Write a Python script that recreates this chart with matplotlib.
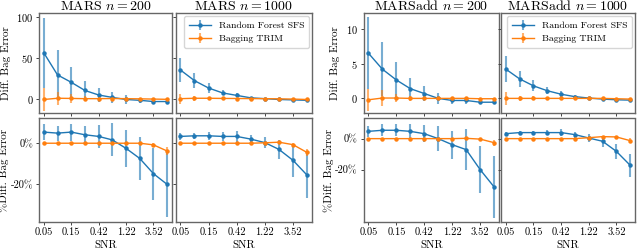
import matplotlib
matplotlib.use("Agg")
import matplotlib.pyplot as plt
from matplotlib.ticker import FixedLocator

plt.rcParams['font.family'] = 'serif'
plt.rcParams['font.serif'] = ['cmr10', 'DejaVu Serif']
plt.rcParams['mathtext.fontset'] = 'cm'
plt.rcParams['axes.unicode_minus'] = False
plt.rcParams['axes.formatter.use_mathtext'] = True

# SNR grid (10 points), every other one labelled
snr_labels = ['0.05', '0.15', '0.42', '1.22', '3.52']
x = list(range(10))

# MARS n=200
mars200_rf = [56, 29, 20, 10, 4.5, 1.5, -1, -2, -3.5, -3.5]
mars200_rf_err = [43, 31, 19, 11, 8, 7, 5, 3, 2, 1.5]
mars200_tr = [-1, 0.5, 0.3, 0, 0, 0.2, 0, -0.2, -0.5, -0.8]
mars200_tr_err = [14, 8, 5, 3, 2, 1.5, 1.2, 1, 1, 1]
mars200_rf_pct = [5.4, 4.9, 5.4, 4.1, 3.3, 1.6, -2.5, -7.4, -14.8, -20]
mars200_rf_pct_err = [3.7, 3.7, 4.1, 4.3, 5.7, 8, 9, 10.6, 12.7, 16]
mars200_tr_pct = [0, 0, 0, 0, 0, 0, 0, 0, -0.8, -3.8]
mars200_tr_pct_err = [0.3, 0.3, 0.3, 0.3, 0.3, 0.3, 0.3, 0.5, 1, 2]

# MARS n=1000
mars1000_rf = [35, 22, 13, 7, 4, 1, 0, -1, -1.5, -2]
mars1000_rf_err = [15, 9, 6, 3, 2.5, 1, 0.5, 1, 1, 1]
mars1000_tr = [0, 0.5, 0.5, 0.3, 0.2, 0.1, 0, -0.2, -0.5, -1]
mars1000_tr_err = [6, 3, 1.5, 1, 0.8, 0.5, 0.5, 0.5, 0.5, 0.5]
mars1000_rf_pct = [3.3, 3.6, 3.6, 3.3, 3.3, 2, 0.3, -3, -8.3, -15.5]
mars1000_rf_pct_err = [1.5, 1.5, 2, 2, 2.5, 2, 2.5, 4.5, 8, 11]
mars1000_tr_pct = [0, 0, 0, 0, 0, 0, 0.2, 0.5, -0.7, -4.5]
mars1000_tr_pct_err = [0.3, 0.3, 0.3, 0.3, 0.3, 0.3, 0.5, 0.6, 0.8, 1.5]

# MARSadd n=200
add200_rf = [6.5, 4.2, 2.65, 1.4, 0.7, 0, -0.3, -0.3, -0.55, -0.55]
add200_rf_err = [5.2, 3.9, 2.6, 1.6, 1.1, 0.8, 0.5, 0.5, 0.3, 0.3]
add200_tr = [-0.2, 0.05, 0.05, 0, 0, 0, 0, 0, -0.05, -0.05]
add200_tr_err = [1.6, 1.1, 0.6, 0.4, 0.25, 0.2, 0.15, 0.15, 0.15, 0.15]
add200_rf_pct = [4.7, 5.4, 5.4, 4.7, 3.2, 0, -3.9, -7.1, -20, -31.2]
add200_rf_pct_err = [3.4, 4, 4, 4.5, 5.5, 8, 9, 13, 15, 20]
add200_tr_pct = [0, 0, 0, 0, 0, 0, 0, 0.2, -0.3, -2.6]
add200_tr_pct_err = [0.3, 0.3, 0.3, 0.3, 0.3, 0.3, 0.3, 0.5, 1, 2]

# MARSadd n=1000
add1000_rf = [4.2, 2.8, 1.8, 1.1, 0.6, 0.25, 0.05, -0.1, -0.2, -0.25]
add1000_rf_err = [1.9, 1.1, 0.8, 0.5, 0.4, 0.2, 0.15, 0.15, 0.15, 0.15]
add1000_tr = [0, 0, 0, 0, 0, 0, 0, 0, -0.05, -0.1]
add1000_tr_err = [0.9, 0.4, 0.3, 0.2, 0.15, 0.1, 0.1, 0.1, 0.1, 0.1]
add1000_rf_pct = [3.2, 3.9, 3.9, 3.9, 3.9, 2.6, 0.4, -1.7, -8.2, -17.2]
add1000_rf_pct_err = [1, 1, 1.2, 1.5, 2, 2, 2.5, 3.5, 5, 7.5]
add1000_tr_pct = [0, 0, 0, 0, 0, 0, 0.6, 1.3, 1.1, -1.3]
add1000_tr_pct_err = [0.3, 0.3, 0.3, 0.3, 0.3, 0.3, 0.4, 0.5, 0.6, 1.5]

BLUE = '#1f77b4'
ORANGE = '#ff7f0e'

W, H = 640, 249
fig = plt.figure(figsize=(6.4, 2.49), dpi=100)


def make_ax(x0, x1, y0, y1):
    return fig.add_axes([x0 / W, 1 - y1 / H, (x1 - x0) / W, (y1 - y0) / H])


def draw(ax, rf, rf_err, tr, tr_err):
    for y, e, c, lab in [(rf, rf_err, BLUE, 'Random Forest SFS'),
                         (tr, tr_err, ORANGE, 'Bagging TRIM')]:
        eb = ax.errorbar(x, y, yerr=e, color=c, marker='o', markersize=2.2,
                         linewidth=1, elinewidth=1.5, label=lab)
        eb[2][0].set_alpha(0.6)
    ax.set_xlim(-0.35, 9.35)
    ax.xaxis.set_major_locator(FixedLocator([0, 2, 4, 6, 8]))
    ax.tick_params(labelsize=7.5, length=2, width=0.7, pad=2, color='#444')
    for s in ax.spines.values():
        s.set_color('#666')
        s.set_linewidth(1)


groups = [
    (39, 172, 175.5, 312, 'MARS',
     (mars200_rf, mars200_rf_err, mars200_tr, mars200_tr_err),
     (mars1000_rf, mars1000_rf_err, mars1000_tr, mars1000_tr_err),
     (mars200_rf_pct, mars200_rf_pct_err, mars200_tr_pct, mars200_tr_pct_err),
     (mars1000_rf_pct, mars1000_rf_pct_err, mars1000_tr_pct, mars1000_tr_pct_err),
     (-17.5, 104), [0, 50, 100], (-38, 12)),
    (363.5, 499, 501, 635, 'MARSadd',
     (add200_rf, add200_rf_err, add200_tr, add200_tr_err),
     (add1000_rf, add1000_rf_err, add1000_tr, add1000_tr_err),
     (add200_rf_pct, add200_rf_pct_err, add200_tr_pct, add200_tr_pct_err),
     (add1000_rf_pct, add1000_rf_pct_err, add1000_tr_pct, add1000_tr_pct_err),
     (-2.1, 12.2), [0, 5, 10], (-53.5, 13)),
]

for (a0, a1, b0, b1, name, t200, t1000, p200, p1000, ylim_top, yt_top, ylim_pct) in groups:
    axes = {}
    axes['t200'] = make_ax(a0, a1, 13.5, 113)
    axes['t1000'] = make_ax(b0, b1, 13.5, 113)
    axes['p200'] = make_ax(a0, a1, 118.5, 221.5)
    axes['p1000'] = make_ax(b0, b1, 118.5, 221.5)
    draw(axes['t200'], *t200)
    draw(axes['t1000'], *t1000)
    draw(axes['p200'], *p200)
    draw(axes['p1000'], *p1000)

    for k in ['t200', 't1000']:
        axes[k].set_ylim(*ylim_top)
        axes[k].set_yticks(yt_top)
        axes[k].tick_params(labelbottom=False)
    for k in ['p200', 'p1000']:
        axes[k].set_ylim(*ylim_pct)
        axes[k].set_yticks([-20, 0])
        axes[k].set_xticklabels(snr_labels)
        axes[k].set_xlabel('SNR', fontsize=8, labelpad=3)
    axes['t1000'].tick_params(labelleft=False)
    axes['p1000'].tick_params(labelleft=False)
    axes['p200'].set_yticklabels(['-20%', '0%'])

    axes['t200'].set_title(name + r' $n=200$', fontsize=10, pad=1)
    axes['t1000'].set_title(name + r' $n=1000$', fontsize=10, pad=1)
    axes['t200'].set_ylabel('Diff. Bag Error', fontsize=8, labelpad=4)
    axes['p200'].set_ylabel('%Diff. Bag Error', fontsize=8, labelpad=1)
    axes['t1000'].legend(loc='upper right', fontsize=7, handlelength=2.3,
                         borderpad=0.5, labelspacing=0.45, framealpha=0.8,
                         borderaxespad=0.3)

fig.savefig('out.png', dpi=100)
